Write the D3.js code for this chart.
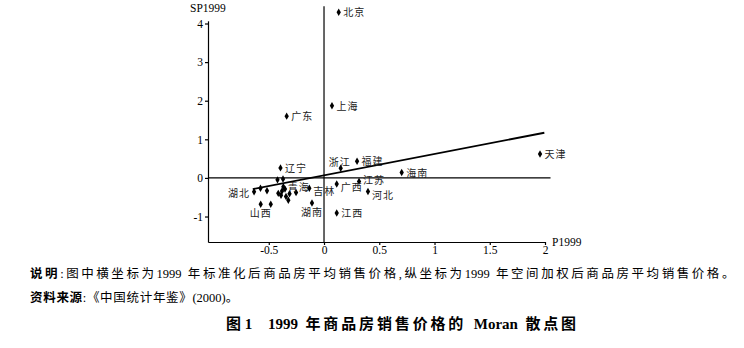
<!DOCTYPE html>
<html><head><meta charset="utf-8">
<script src="https://cdn.jsdelivr.net/npm/d3@7"></script>
<style>body{margin:0;background:#fff} svg{display:block}</style>
</head><body>
<svg id="c" width="744" height="348"></svg>
<script>
// ---- data ----
const provinces = ["北京","上海","广东","天津","浙江","福建","海南","辽宁","江苏","广西","河北","江西","湖南","吉林","青海","湖北","山西",
  "","","","","","","","","","","","",""];
const p1999  = [0.133,0.072,-0.338,1.955,0.151,0.299,0.703,-0.394,0.317,0.115,0.398,0.115,-0.109,-0.133,-0.368,-0.633,-0.573,
  -0.482,-0.575,-0.516,-0.421,-0.371,-0.414,-0.389,-0.353,-0.344,-0.323,-0.312,-0.253,-0.38];
const sp1999 = [4.29,1.87,1.60,0.62,0.25,0.43,0.14,0.26,-0.09,-0.16,-0.35,-0.91,-0.65,-0.27,-0.23,-0.36,-0.68,
  -0.68,-0.27,-0.33,-0.05,-0.03,-0.40,-0.45,-0.29,-0.48,-0.58,-0.41,-0.38,-0.34];
const labelSide = ["r","r","r","r","t","r","r","r","ru","rd","rdd","r","b","rd","r","l","b",
  "","","","","","","","","","","","",""];
const fitX = [-0.645, 1.994];
const fitY = [-0.29, 1.17];
const xTicks = [-0.5, 0, 0.5, 1, 1.5, 2];
const yTicks = [-1, 0, 1, 2, 3, 4];
const xLabel = "P1999", yLabel = "SP1999";
const note1Bold = "说明", note1 = ":图中横坐标为1999\u2002年标准化后商品房平均销售价格,纵坐标为1999\u2002年空间加权后商品房平均销售价格。";
const note2Bold = "资料来源", note2 = ":《中国统计年鉴》(2000)。";
const titleNum = "图 1", titleText = "1999\u2002年商品房销售价格的\u2002Moran\u2002散点图";

// ---- chart ----
const svg = d3.select("#c");
const serif = "'Liberation Serif','Noto Sans CJK SC',serif";
const x = d3.scaleLinear().domain([-1.05, 2]).range([208, 545]);
const y = d3.scaleLinear().domain([-1.66, 4.07]).range([242, 20.8]);

const gx = svg.append("g").attr("transform", `translate(0,${y(-1.66)})`)
  .call(d3.axisBottom(x).tickValues(xTicks).tickSize(3).tickSizeOuter(0).tickPadding(1).tickFormat(d => String(d)));
const gy = svg.append("g").attr("transform", `translate(${x(-1.05)},0)`)
  .call(d3.axisLeft(y).tickValues(yTicks).tickSize(3).tickSizeOuter(0).tickPadding(2).tickFormat(d => String(d)));
[gx, gy].forEach(g => {
  g.selectAll("path,line").attr("stroke", "#000").attr("stroke-width", 1.2);
  g.selectAll("text").attr("font-family", serif).attr("font-size", 11.5).attr("fill", "#000");
});

// zero lines
svg.append("line").attr("x1", x(0)).attr("x2", x(0)).attr("y1", y(-1.66)).attr("y2", y(4.45))
  .attr("stroke", "#000").attr("stroke-width", 1.2);
svg.append("line").attr("x1", x(-1.05)).attr("x2", x(2.05)).attr("y1", y(0)).attr("y2", y(0))
  .attr("stroke", "#000").attr("stroke-width", 1.2);

// fit line
svg.append("line").attr("x1", x(fitX[0])).attr("y1", y(fitY[0])).attr("x2", x(fitX[1])).attr("y2", y(fitY[1]))
  .attr("stroke", "#000").attr("stroke-width", 1.9);

// axis titles
svg.append("text").attr("x", 190).attr("y", 12).text(yLabel)
  .attr("font-family", serif).attr("font-size", 11.5);
svg.append("text").attr("x", x(2) + 7).attr("y", y(-1.66) + 4).text(xLabel)
  .attr("font-family", serif).attr("font-size", 11.5);

// points
const pts = provinces.map((n, i) => ({n, px: p1999[i], py: sp1999[i], s: labelSide[i]}));
const sym = d3.symbol().type(d3.symbolDiamond).size(16);
svg.append("g").selectAll("path").data(pts).join("path")
  .attr("d", sym).attr("transform", d => `translate(${x(d.px)},${y(d.py)})`).attr("fill", "#000");

const off = {r: [4.5, 4, "start"], ru: [4, 3, "start"], rd: [4, 6.5, "start"], rdd: [4, 8, "start"],
  l: [-4, 5, "end"], b: [0, 12.5, "middle"], t: [-1, -2, "middle"]};
svg.append("g").selectAll("text").data(pts.filter(d => d.n)).join("text")
  .attr("x", d => x(d.px) + off[d.s][0]).attr("y", d => y(d.py) + off[d.s][1])
  .attr("text-anchor", d => off[d.s][2])
  .attr("font-family", "'Noto Sans CJK SC',sans-serif").attr("font-size", 10).attr("letter-spacing", 1)
  .attr("fill", "#222").text(d => d.n);

// notes: CJK runs get letter-spacing computed to fit the target width
const latin = /[0-9A-Za-z()\u2002 ]/;
function fitText(xp, yp, size, parts, target, weight) {
  const t = svg.append("text").attr("x", xp).attr("y", yp).attr("font-size", size)
    .attr("font-family", serif).attr("font-weight", weight || "normal").attr("xml:space", "preserve");
  const cjkSpans = [];
  let nCjk = 0;
  parts.forEach(([str, bold]) => {
    const runs = str.match(/[0-9A-Za-z()\u2002 ]+|[^0-9A-Za-z()\u2002 ]+/g);
    runs.forEach(r => {
      const sp = t.append("tspan").text(r);
      if (bold) sp.attr("font-weight", "bold");
      if (!latin.test(r[0])) { cjkSpans.push(sp); nCjk += r.length; }
    });
  });
  const w = t.node().getComputedTextLength();
  const ls = Math.max(0, (target - w) / nCjk);
  cjkSpans.forEach(sp => sp.attr("letter-spacing", ls));
  return t;
}
fitText(30, 277.5, 12.5, [[note1Bold, true], [note1, false]], 707);
fitText(30, 301.5, 12.5, [[note2Bold, true], [note2, false]], 209);
fitText(226, 328.5, 15, [[titleNum, true]], 25, "bold");
fitText(268, 328.5, 15, [[titleText, true]], 311, "bold");
</script>
</body></html>
